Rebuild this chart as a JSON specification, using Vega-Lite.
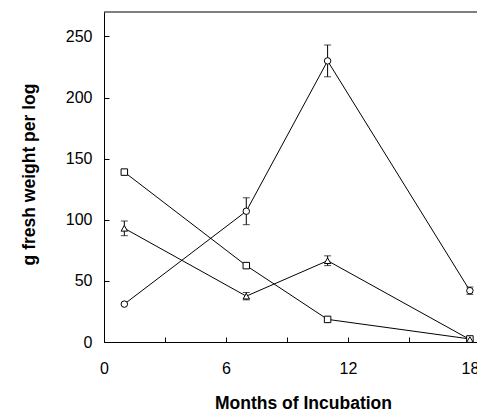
{
  "$schema": "https://vega.github.io/schema/vega-lite/v6.json",
  "autosize": "none",
  "padding": {"left": 104, "top": 12, "right": 0, "bottom": 72},
  "width": 373,
  "height": 330,
  "background": "white",
  "config": {
    "view": {"stroke": null},
    "font": "Liberation Sans",
    "axis": {
      "domainColor": "black", "tickColor": "black", "labelColor": "black", "titleColor": "black",
      "grid": false, "labelFont": "Liberation Sans", "titleFont": "Liberation Sans",
      "labelFontSize": 16, "titleFontSize": 17.5, "titleFontWeight": "bold",
      "tickSize": -5, "domainWidth": 1, "tickWidth": 1
    }
  },
  "datasets": {
    "pts": [
      {"series": "circle", "month": 1, "value": 31},
      {"series": "circle", "month": 7, "value": 107, "lo": 96, "hi": 118},
      {"series": "circle", "month": 11, "value": 230, "lo": 217, "hi": 243},
      {"series": "circle", "month": 18, "value": 42, "lo": 39, "hi": 45},
      {"series": "square", "month": 1, "value": 139},
      {"series": "square", "month": 7, "value": 62.5},
      {"series": "square", "month": 11, "value": 18.5},
      {"series": "square", "month": 18, "value": 2.5},
      {"series": "triangle", "month": 1, "value": 93, "lo": 87, "hi": 99},
      {"series": "triangle", "month": 7, "value": 37.5, "lo": 34.5, "hi": 40.5},
      {"series": "triangle", "month": 11, "value": 66.5, "lo": 62.5, "hi": 70.5},
      {"series": "triangle", "month": 18, "value": 2}
    ],
    "frame": [{"top": 270}]
  },
  "data": {"name": "pts"},
  "layer": [
    {
      "mark": {"type": "line", "color": "black", "strokeWidth": 1},
      "encoding": {
        "x": {"field": "month", "type": "quantitative",
              "scale": {"domain": [0, 18.35], "nice": false, "zero": false},
              "axis": {"values": [0, 3, 6, 9, 12, 15, 18], "labelExpr": "datum.value % 6 == 0 ? datum.label : ''",
                       "title": "Months of Incubation", "labelPadding": 23, "titlePadding": 18, "labelFlush": false,
                       "titleX": 199}},
        "y": {"field": "value", "type": "quantitative",
              "scale": {"domain": [0, 270], "nice": false},
              "axis": {"values": [0, 50, 100, 150, 200, 250], "title": "g fresh weight per log",
                       "labelPadding": 17, "titlePadding": 27, "titleY": 162}},
        "detail": {"field": "series"}
      }
    },
    {
      "mark": {"type": "rule", "color": "black", "strokeWidth": 1},
      "transform": [{"filter": "isValid(datum.lo)"}],
      "encoding": {"x": {"field": "month", "type": "quantitative"}, "y": {"field": "lo", "type": "quantitative"}, "y2": {"field": "hi"}}
    },
    {
      "mark": {"type": "tick", "color": "black", "thickness": 1, "size": 7, "orient": "horizontal"},
      "transform": [{"filter": "isValid(datum.lo)"}],
      "encoding": {"x": {"field": "month", "type": "quantitative"}, "y": {"field": "lo", "type": "quantitative"}}
    },
    {
      "mark": {"type": "tick", "color": "black", "thickness": 1, "size": 7, "orient": "horizontal"},
      "transform": [{"filter": "isValid(datum.hi)"}],
      "encoding": {"x": {"field": "month", "type": "quantitative"}, "y": {"field": "hi", "type": "quantitative"}}
    },
    {
      "mark": {"type": "point", "filled": true, "fill": "white", "stroke": "black", "strokeWidth": 1, "opacity": 1},
      "encoding": {
        "x": {"field": "month", "type": "quantitative"},
        "y": {"field": "value", "type": "quantitative"},
        "shape": {"field": "series", "type": "nominal",
                  "scale": {"domain": ["circle", "square", "triangle"], "range": ["circle", "square", "triangle-up"]},
                  "legend": null},
        "size": {"field": "series", "type": "nominal",
                 "scale": {"domain": ["circle", "square", "triangle"], "range": [42, 42, 30]},
                 "legend": null}
      }
    },
    {
      "data": {"name": "frame"},
      "mark": {"type": "rule", "color": "black", "strokeWidth": 1},
      "encoding": {"y": {"field": "top", "type": "quantitative"}}
    }
  ]
}
